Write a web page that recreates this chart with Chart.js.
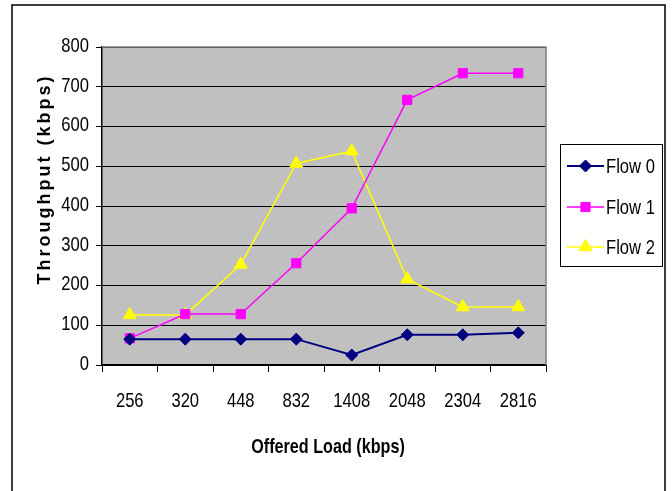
<!DOCTYPE html>
<html>
<head>
<meta charset="utf-8">
<script src="https://cdn.jsdelivr.net/npm/chart.js@4.4.1/dist/chart.umd.min.js"></script>
<style>
  html, body { margin: 0; padding: 0; background: #ffffff; }
  #wrap { width: 672px; height: 491px; position: relative; }
</style>
</head>
<body>
<div id="wrap"><canvas id="chart" width="672" height="491"></canvas></div>
<script>
// offered load categories (kbps)
const loads = ['256', '320', '448', '832', '1408', '2048', '2304', '2816'];

// throughput per flow (kbps)
const flow0 = [65, 65, 65, 65, 25, 76, 76, 81];
const flow1 = [67, 128, 128, 256, 394, 667, 734, 734];
const flow2 = [126, 126, 253, 507, 538, 216, 146, 146];

const flowNames = ['Flow 0', 'Flow 1', 'Flow 2'];

const yMin = 0;
const yMax = 800;
const yStep = 100;

const sans = '"Liberation Sans", Arial, sans-serif';
const squeeze = 0.79; // the original text is narrow and tall

// text squeezed horizontally to look like the condensed original
function squeezedText(ctx, text, x, y, sx) {
    ctx.save();
    ctx.translate(x, y);
    ctx.scale(sx, 1);
    ctx.fillText(text, 0, 0);
    ctx.restore();
}

// grey plot background, frame, tick labels, axis titles and legend
const framePlugin = {
    id: 'frame',
    beforeDraw(chart) {
        const ctx = chart.ctx;
        const a = chart.chartArea;
        ctx.save();
        ctx.fillStyle = '#ffffff';
        ctx.fillRect(0, 0, chart.width, chart.height);
        ctx.strokeStyle = '#000000';
        ctx.lineWidth = 1.5;
        ctx.beginPath();
        ctx.moveTo(12, chart.height + 2);
        ctx.lineTo(12, 5);
        ctx.lineTo(665, 5);
        ctx.lineTo(665, chart.height + 2);
        ctx.stroke();
        ctx.fillStyle = '#c0c0c0';
        ctx.fillRect(a.left, a.top, a.right - a.left, a.bottom - a.top);
        ctx.restore();
    },
    beforeDatasetsDraw(chart) {
        const ctx = chart.ctx;
        const a = chart.chartArea;
        ctx.save();
        ctx.strokeStyle = '#808080';
        ctx.lineWidth = 1.5;
        ctx.beginPath();
        ctx.moveTo(a.left, a.top);
        ctx.lineTo(a.right, a.top);
        ctx.lineTo(a.right, a.bottom);
        ctx.stroke();
        ctx.restore();
    },
    afterDraw(chart) {
        const ctx = chart.ctx;
        const a = chart.chartArea;
        const xs = chart.scales.x;
        const ys = chart.scales.y;
        ctx.save();
        ctx.fillStyle = '#000000';
        ctx.textBaseline = 'middle';
        ctx.font = '21px ' + sans;

        // tick labels, placed by the chart's own scales
        ctx.textAlign = 'center';
        xs.ticks.forEach((t, i) => {
            squeezedText(ctx, xs.getLabelForValue(t.value), xs.getPixelForTick(i), 401, squeeze);
        });
        ctx.textAlign = 'right';
        ys.ticks.forEach((t) => {
            squeezedText(ctx, t.label, 89, ys.getPixelForValue(t.value) - 1, squeeze);
        });

        // axis titles
        ctx.textAlign = 'center';
        ctx.font = 'bold 21px ' + sans;
        squeezedText(ctx, 'Offered Load (kbps)', (a.left + a.right) / 2 + 4, 447, 0.77);

        ctx.translate(45, 179);
        ctx.rotate(-Math.PI / 2);
        ctx.font = 'bold 18px ' + sans;
        ctx.letterSpacing = '3px';
        ctx.fillText('Throughput (kbps)', 0, 0);
        ctx.restore();

        // legend box
        ctx.save();
        const bx = 560, by = 144, bw = 102, bh = 122;
        ctx.fillStyle = '#ffffff';
        ctx.fillRect(bx, by, bw, bh);
        ctx.strokeStyle = '#000000';
        ctx.lineWidth = 1;
        ctx.strokeRect(bx + 0.5, by + 0.5, bw, bh);
        const rows = [166, 207, 247];
        chart.data.datasets.forEach((ds, i) => {
            const y = rows[i];
            ctx.strokeStyle = ds.borderColor;
            ctx.lineWidth = ds.borderWidth;
            ctx.beginPath();
            ctx.moveTo(567, y);
            ctx.lineTo(604, y);
            ctx.stroke();
            ctx.fillStyle = ds.pointBackgroundColor;
            ctx.strokeStyle = ds.pointBorderColor;
            ctx.lineWidth = 1;
            Chart.helpers.drawPoint(ctx, {
                pointStyle: ds.pointStyle,
                radius: ds.pointRadius,
                rotation: 0,
                borderWidth: 1
            }, 585.5, y);
            ctx.fillStyle = '#000000';
            ctx.font = '21px ' + sans;
            ctx.textAlign = 'left';
            ctx.textBaseline = 'middle';
            squeezedText(ctx, ds.label, 606, y + 1, squeeze);
        });
        ctx.restore();
    }
};

new Chart(document.getElementById('chart').getContext('2d'), {
    type: 'line',
    data: {
        labels: loads,
        datasets: [
            {
                label: flowNames[0],
                data: flow0,
                borderColor: '#000080',
                borderWidth: 2,
                pointStyle: 'rectRot',
                pointRadius: 6,
                pointBackgroundColor: '#000080',
                pointBorderColor: '#000080',
                pointBorderWidth: 1
            },
            {
                label: flowNames[1],
                data: flow1,
                borderColor: '#ff00ff',
                borderWidth: 1.5,
                pointStyle: 'rect',
                pointRadius: 6.5,
                pointBackgroundColor: '#ff00ff',
                pointBorderColor: '#ff00ff',
                pointBorderWidth: 1
            },
            {
                label: flowNames[2],
                data: flow2,
                borderColor: '#ffff00',
                borderWidth: 1.5,
                pointStyle: 'triangle',
                pointRadius: 7.5,
                pointBackgroundColor: '#ffff00',
                pointBorderColor: '#ffff00',
                pointBorderWidth: 1
            }
        ]
    },
    options: {
        responsive: false,
        animation: false,
        devicePixelRatio: 1,
        layout: { padding: { top: 47, right: 126, left: 0, bottom: 0 } },
        plugins: {
            legend: { display: false },
            tooltip: { enabled: false },
            title: { display: false }
        },
        elements: { line: { tension: 0 } },
        scales: {
            x: {
                offset: true,
                grid: {
                    offset: true,
                    drawOnChartArea: false,
                    color: '#000000',
                    lineWidth: 1,
                    tickLength: 7
                },
                border: { display: true, color: '#000000', width: 1.5 },
                ticks: { display: false, maxRotation: 0 },
                afterFit(scale) { scale.height = 126; }
            },
            y: {
                min: yMin,
                max: yMax,
                grid: {
                    color: '#000000',
                    lineWidth: 1,
                    tickLength: 6
                },
                border: { display: true, color: '#000000', width: 1.5 },
                ticks: { display: false, stepSize: yStep },
                afterFit(scale) { scale.width = 102; }
            }
        }
    },
    plugins: [framePlugin]
});
</script>
</body>
</html>
